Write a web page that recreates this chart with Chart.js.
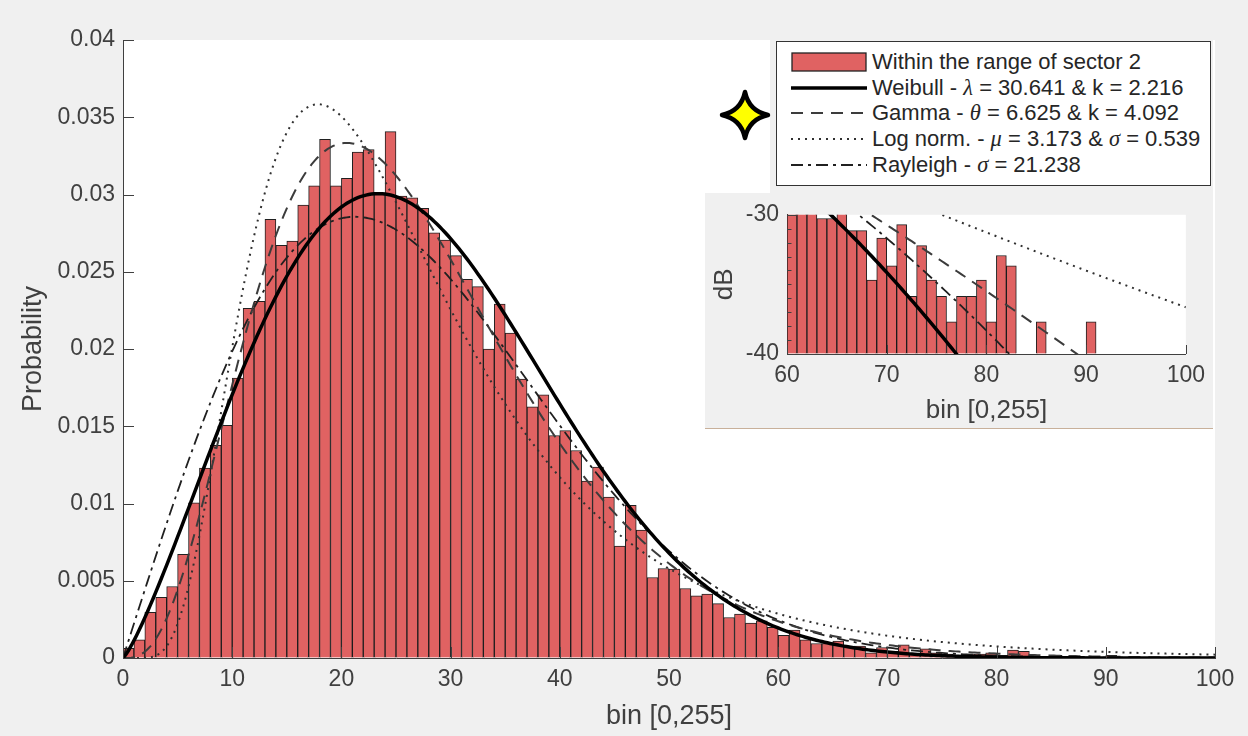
<!DOCTYPE html>
<html>
<head>
<meta charset="utf-8">
<script src="https://cdn.jsdelivr.net/npm/chart.js"></script>
<style>
  html, body { margin: 0; padding: 0; }
  body { width: 1248px; height: 736px; background: #f0f0f0; position: relative; overflow: hidden;
         font-family: "Liberation Sans", Arial, sans-serif; }
  #main { position: absolute; left: 0; top: 0; }
  #legendPatch { position: absolute; left: 770px; top: 0; width: 443px; height: 193px; background: #f0f0f0; }
  #legend { position: absolute; left: 776px; top: 41px; width: 435px; height: 145px; background: #fff;
            border: 1.5px solid #333; box-sizing: border-box; }
  .row { position: absolute; left: 0; height: 26px; width: 100%; }
  .row svg { position: absolute; left: 14px; top: 3px; }
  .row .label { position: absolute; left: 95px; top: 0; line-height: 26px; font-size: 22px; color: #262626; white-space: nowrap; }
  .g { font-family: "Liberation Serif", "DejaVu Serif", serif; font-style: italic; font-size: 22.5px; }
  #insetBox { position: absolute; left: 705px; top: 193px; width: 508px; height: 235px; background: #f0f0f0;
              border-bottom: 1px solid #c8b09a; }
  #inset { position: absolute; left: 0; top: 0; }
  #star { position: absolute; left: 717px; top: 87px; }
</style>
</head>
<body>
<canvas id="main" width="1248" height="736"></canvas>
<div id="legendPatch"></div>
<svg id="star" width="56" height="56" viewBox="-28 -28 56 56">
  <path d="M0,-23 Q4,-4 23,0 Q4,4 0,23 Q-4,4 -23,0 Q-4,-4 0,-23 Z" fill="#ffff00" stroke="#000" stroke-width="4.5" stroke-linejoin="round"/>
</svg>
<div id="legend"></div>
<div id="insetBox"><canvas id="inset" width="508" height="235"></canvas></div>

<script>
// histogram bins: unit width, left edges 0..99
const binStart = Array.from({ length: 100 }, (_, i) => i);
const probability = [
  0.00063, 0.00118, 0.00295, 0.00392, 0.00463, 0.00671, 0.01005, 0.01229, 0.01377, 0.01506,
  0.01812, 0.02264, 0.02309, 0.02839, 0.02671, 0.02699, 0.02931, 0.03056, 0.03357, 0.03056,
  0.03105, 0.03275, 0.03290, 0.03006, 0.03407, 0.02990, 0.02978, 0.02910, 0.02752, 0.02705,
  0.02604, 0.02451, 0.02404, 0.02000, 0.02290, 0.02103, 0.01806, 0.01625, 0.01704, 0.01440,
  0.01472, 0.01343, 0.01145, 0.01235, 0.01041, 0.00725, 0.00988, 0.00828, 0.00521, 0.00579,
  0.00575, 0.00450, 0.00402, 0.00413, 0.00352, 0.00262, 0.00284, 0.00226, 0.00241, 0.00198,
  0.00146, 0.00180, 0.00118, 0.00094, 0.00094, 0.00110, 0.00077, 0.00077, 0.00034, 0.00068,
  0.00043, 0.00085, 0.00026, 0.00060, 0.00034, 0.00026, 0.00017, 0.00026, 0.00026, 0.00034,
  0.00017, 0.00051, 0.00043, 0, 0, 0.00017, 0, 0, 0, 0,
  0.00017, 0, 0, 0, 0, 0, 0, 0, 0, 0
];

// fitted distributions
const weibullParams = [30.641, 2.216];  // lambda, k
const gammaParams = [6.625, 4.092];     // theta, k
const lognormParams = [3.173, 0.539];   // mu, sigma
const rayleighParams = [21.238];        // sigma

const mainTicksX = [0, 10, 20, 30, 40, 50, 60, 70, 80, 90, 100];
const mainTicksY = [0, 0.005, 0.01, 0.015, 0.02, 0.025, 0.03, 0.035, 0.04];
const insetTicksX = [60, 70, 80, 90, 100];
const insetTicksY = [-40, -30];
const insetMinorY = [-39, -38, -37, -36, -35, -34, -33, -32, -31];

const curveX = Array.from({ length: 401 }, (_, i) => i * 0.25);

function gammaFn(z) {
  const c = [0.99999999999980993, 676.5203681218851, -1259.1392167224028, 771.32342877765313,
    -176.61502916214059, 12.507343278686905, -0.13857109526572012, 9.9843695780195716e-6, 1.5056327351493116e-7];
  z -= 1;
  let a = c[0];
  const t = z + 7.5;
  for (let i = 1; i < 9; i++) a += c[i] / (z + i);
  return Math.sqrt(2 * Math.PI) * Math.pow(t, z + 0.5) * Math.exp(-t) * a;
}

const pdf = {
  weibull: (x, [l, k]) => (k / l) * Math.pow(x / l, k - 1) * Math.exp(-Math.pow(x / l, k)),
  gamma: (x, [th, k]) => Math.pow(x, k - 1) * Math.exp(-x / th) / (gammaFn(k) * Math.pow(th, k)),
  lognorm: (x, [mu, s]) => x <= 0 ? 0 :
    Math.exp(-Math.pow(Math.log(x) - mu, 2) / (2 * s * s)) / (x * s * Math.sqrt(2 * Math.PI)),
  rayleigh: (x, [s]) => x / (s * s) * Math.exp(-x * x / (2 * s * s))
};

const curves = [
  { name: 'weibull', params: weibullParams, color: '#000', width: 3.5, dash: [] },
  { name: 'gamma', params: gammaParams, color: '#3c3c3c', width: 2, dash: [12, 8] },
  { name: 'lognorm', params: lognormParams, color: '#303030', width: 2, dash: [2, 5] },
  { name: 'rayleigh', params: rayleighParams, color: '#202020', width: 1.8, dash: [12, 5, 3, 5] }
];

const dB = v => 10 * Math.log10(v);

// white plot background
const plotBg = {
  id: 'plotBg',
  beforeDraw(chart) {
    const { ctx, chartArea: a } = chart;
    ctx.save();
    ctx.fillStyle = '#fff';
    ctx.fillRect(a.left, a.top, a.right - a.left, a.bottom - a.top);
    ctx.restore();
  }
};

// tick marks pointing into the plot
const inwardTicks = {
  id: 'inwardTicks',
  afterDatasetsDraw(chart, args, opts) {
    const { ctx, chartArea: a, scales: { x, y } } = chart;
    ctx.save();
    ctx.strokeStyle = '#404040';
    ctx.lineWidth = 1;
    ctx.beginPath();
    x.ticks.forEach(t => {
      const px = Math.round(x.getPixelForValue(t.value)) + 0.5;
      ctx.moveTo(px, a.bottom); ctx.lineTo(px, a.bottom - opts.len);
    });
    y.ticks.forEach(t => {
      const py = Math.round(y.getPixelForValue(t.value)) + 0.5;
      ctx.moveTo(a.left, py); ctx.lineTo(a.left + opts.len, py);
    });
    (opts.minorY || []).forEach(v => {
      const py = Math.round(y.getPixelForValue(v)) + 0.5;
      ctx.moveTo(a.left, py); ctx.lineTo(a.left + opts.len / 2, py);
    });
    ctx.stroke();
    ctx.restore();
  }
};

const tickFont = { family: 'Liberation Sans', size: 23 };
const titleFont = { family: 'Liberation Sans', size: 27 };
const insetTitleFont = { family: 'Liberation Sans', size: 26 };
const axisColor = '#404040';

function axis(ticks, fit, extra) {
  return Object.assign({
    type: 'linear',
    offset: false,
    grid: { display: true, drawOnChartArea: false, drawTicks: false },
    border: { display: true, color: axisColor, width: 1 },
    afterBuildTicks: s => { s.ticks = ticks.map(v => ({ value: v })); },
    afterFit: fit
  }, extra);
}

function barDataset(values, base) {
  return {
    type: 'bar',
    order: 10,
    data: values,
    backgroundColor: 'rgb(224, 98, 98)',
    borderColor: 'rgba(20, 20, 20, 0.95)',
    borderWidth: 1,
    barPercentage: 1,
    categoryPercentage: 1,
    base: base
  };
}

function curveDatasets(xs, map) {
  return curves.map((c, i) => ({
    type: 'line',
    order: i + 1,
    data: xs.map(x => ({ x, y: map(pdf[c.name](x, c.params)) })),
    borderColor: c.color,
    borderWidth: c.width,
    borderDash: c.dash,
    pointRadius: 0,
    fill: false,
    tension: 0
  }));
}

// main histogram with fitted pdfs
new Chart(document.getElementById('main'), {
  type: 'bar',
  data: {
    datasets: [
      barDataset(binStart.map((b, i) => ({ x: b + 0.5, y: probability[i] })), 0),
      ...curveDatasets(curveX, v => v)
    ]
  },
  options: {
    responsive: false,
    animation: false,
    devicePixelRatio: 1,
    layout: { padding: { top: 40, right: 33, left: 0, bottom: 0 } },
    plugins: { legend: { display: false }, tooltip: { enabled: false }, inwardTicks: { len: 11 } },
    scales: {
      x: axis(mainTicksX, s => { s.height = 78; }, {
        min: 0, max: 100,
        ticks: { font: tickFont, color: axisColor, padding: 8, maxRotation: 0 },
        title: { display: true, text: 'bin [0,255]', font: titleFont, color: axisColor, padding: { top: 0, bottom: 3 } }
      }),
      y: axis(mainTicksY, s => { s.width = 123; }, {
        min: 0, max: 0.04,
        ticks: { font: tickFont, color: axisColor, padding: 8,
                 callback: v => v === 0 ? '0' : String(+v.toFixed(3)) },
        title: { display: true, text: 'Probability', font: titleFont, color: axisColor, padding: { top: 17, bottom: 0 } }
      })
    }
  },
  plugins: [plotBg, inwardTicks]
});

// tail of the histogram in dB
const tailBins = binStart.filter(b => b >= 60);
const insetX = curveX.filter(x => x >= 60);
new Chart(document.getElementById('inset'), {
  type: 'bar',
  data: {
    datasets: [
      barDataset(tailBins.map(b => ({ x: b + 0.5, y: probability[b] > 0 ? dB(probability[b]) : null })), -40),
      ...curveDatasets(insetX, dB)
    ]
  },
  options: {
    responsive: false,
    animation: false,
    devicePixelRatio: 1,
    layout: { padding: { top: 16, right: 26, left: 0, bottom: 0 } },
    plugins: { legend: { display: false }, tooltip: { enabled: false }, inwardTicks: { len: 9, minorY: insetMinorY } },
    scales: {
      x: axis(insetTicksX, s => { s.height = 74; }, {
        min: 60, max: 100,
        ticks: { font: tickFont, color: axisColor, padding: 8, maxRotation: 0 },
        title: { display: true, text: 'bin [0,255]', font: insetTitleFont, color: axisColor, padding: { top: 0, bottom: 2 } }
      }),
      y: axis(insetTicksY, s => { s.width = 82; }, {
        min: -40, max: -30,
        ticks: { font: tickFont, color: axisColor, padding: 8 },
        title: { display: true, text: 'dB', font: insetTitleFont, color: axisColor, padding: { top: 4, bottom: 0 } }
      })
    }
  },
  plugins: [plotBg, inwardTicks]
});

// legend entries built from the same parameters
const g = s => `<span class="g">${s}</span>`;
const legendRows = [
  { text: 'Within the range of sector 2', swatch: true },
  { text: `Weibull - ${g('λ')} = ${weibullParams[0]} &amp; k = ${weibullParams[1]}`, curve: curves[0] },
  { text: `Gamma - ${g('θ')} = ${gammaParams[0]} &amp; k = ${gammaParams[1]}`, curve: curves[1] },
  { text: `Log norm. - ${g('μ')} = ${lognormParams[0]} &amp; ${g('σ')} = ${lognormParams[1]}`, curve: curves[2] },
  { text: `Rayleigh - ${g('σ')} = ${rayleighParams[0]}`, curve: curves[3] }
];
const legendTops = [7, 33, 58, 84, 110];
document.getElementById('legend').innerHTML = legendRows.map((r, i) => {
  const sample = r.swatch
    ? '<rect x="1" y="1" width="74" height="18" fill="rgb(224,98,98)" stroke="#222" stroke-width="1.3"/>'
    : `<line x1="0" y1="10" x2="76" y2="10" stroke="${r.curve.color}" stroke-width="${r.curve.width}"
         stroke-dasharray="${r.curve.dash.join(' ')}"/>`;
  return `<div class="row" style="top:${legendTops[i]}px"><svg width="76" height="20">${sample}</svg>` +
         `<span class="label">${r.text}</span></div>`;
}).join('');
</script>
</body>
</html>
